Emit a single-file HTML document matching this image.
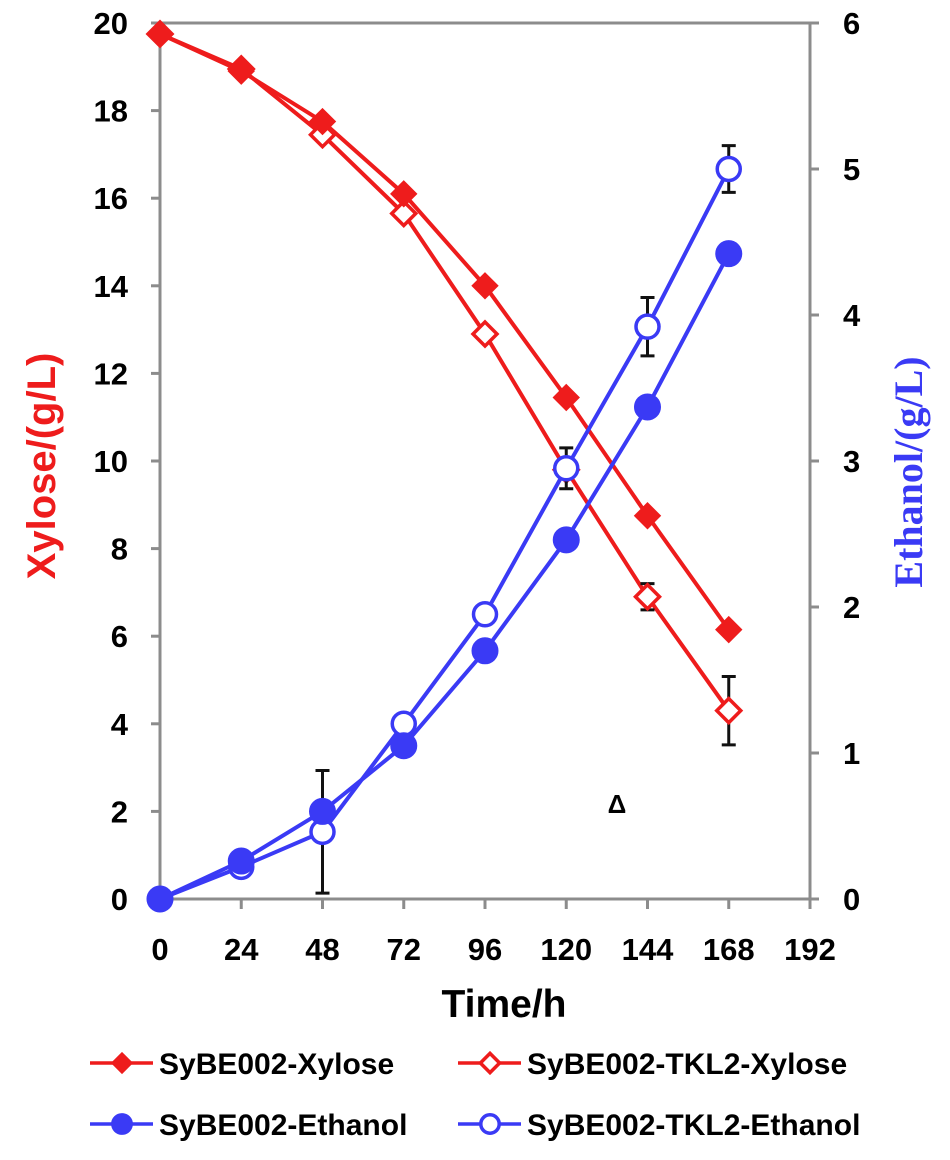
<!DOCTYPE html>
<html><head><meta charset="utf-8"><style>
body{margin:0;background:#fff;}
svg text{font-family:"Liberation Sans",Arial,sans-serif;font-weight:bold;}
</style></head><body>
<svg id="chart" width="950" height="1155" xmlns="http://www.w3.org/2000/svg">
<g id="axes"></g><g id="series"></g><g id="legend"></g>
</svg>
<script>
const times=[0,24,48,72,96,120,144,168];
const xyloseA=[19.75,18.9,17.75,16.1,14.0,11.45,8.75,6.15];
const xyloseB=[19.75,18.95,17.45,15.65,12.9,9.8,6.9,4.3];
const xyloseBErr=[0,0,0,0.12,0.1,0.12,0.3,0.78];
const ethA=[0,0.26,0.6,1.05,1.7,2.46,3.37,4.42];
const ethB=[0,0.22,0.46,1.2,1.95,2.95,3.92,5.0];
const ethBErr=[0,0,0.42,0,0,0.14,0.2,0.16];
const xTicks=[0,24,48,72,96,120,144,168,192];
const yTicks=[0,2,4,6,8,10,12,14,16,18,20];
const y2Ticks=[0,1,2,3,4,5,6];
const RED='#ee1c1c',BLUE='#3a3af5',AX='#8c8c8c';
const NS='http://www.w3.org/2000/svg';
const X0=160,X1=810,Y0=899,Y1=23;
const sx=t=>X0+(X1-X0)*t/192;
const sy=v=>Y0-(Y0-Y1)*v/20;
const sy2=v=>Y0-(Y0-Y1)*v/6;
function mk(tag,at,parent,txt){const e=document.createElementNS(NS,tag);for(const k in at)e.setAttribute(k,at[k]);if(txt!==undefined)e.textContent=txt;parent.appendChild(e);return e;}
const axes=document.getElementById('axes'),ser=document.getElementById('series'),leg=document.getElementById('legend');
let e;
e=mk('line',{x1:X0,y1:Y1,x2:X1,y2:Y1,stroke:AX,'stroke-width':3},axes);

e=mk('line',{x1:X0,y1:Y1,x2:X0,y2:Y0,stroke:AX,'stroke-width':3},axes);

e=mk('line',{x1:X1,y1:Y1,x2:X1,y2:Y0,stroke:AX,'stroke-width':3},axes);

e=mk('line',{x1:X0,y1:Y0,x2:X1,y2:Y0,stroke:AX,'stroke-width':3},axes);

xTicks.forEach(t=>{mk('line',{x1:sx(t),y1:Y0,x2:sx(t),y2:Y0+10,stroke:AX,'stroke-width':3},axes);
 e=mk('text',{x:sx(t),y:Y0+61,'text-anchor':'middle','font-size':31},axes,t);
 });
yTicks.forEach(v=>{mk('line',{x1:X0-9,y1:sy(v),x2:X0,y2:sy(v),stroke:AX,'stroke-width':3},axes);
 e=mk('text',{x:X0-32,y:sy(v)+11,'text-anchor':'end','font-size':31},axes,v);
 });
y2Ticks.forEach(v=>{mk('line',{x1:X1,y1:sy2(v),x2:X1+9,y2:sy2(v),stroke:AX,'stroke-width':3},axes);
 e=mk('text',{x:X1+33,y:sy2(v)+11,'text-anchor':'start','font-size':31},axes,v);
 });
e=mk('text',{x:504,y:1017,'text-anchor':'middle','font-size':39},axes,'Time/h');

e=mk('text',{x:0,y:0,'text-anchor':'middle','font-size':40,fill:RED,transform:'translate(55,466) rotate(-90)'},axes,'Xylose/(g/L)');

e=mk('text',{x:0,y:0,'text-anchor':'middle','font-size':40,fill:BLUE,style:'font-family:"Liberation Serif",serif',transform:'translate(922,472) rotate(-90)'},axes,'Ethanol/(g/L)');

e=mk('text',{x:617,y:813,'text-anchor':'middle','font-size':26},axes,'Δ');


function marker(g,x,y,shape,filled,color,s){
 s=s||1;
 if(shape==='d'){const r=(filled?13:12)*s;return mk('polygon',{points:`${x},${y-r} ${x+r},${y} ${x},${y+r} ${x-r},${y}`,fill:filled?color:'#fff',stroke:color,'stroke-width':filled?1:3.5},g);}
 return mk('circle',{cx:x,cy:y,r:(filled?13:11.5)*s,fill:filled?color:'#fff',stroke:color,'stroke-width':filled?1:3.5},g);
}
function series(name,vals,err,scale,color,shape,filled){
 const g=mk('g',{},ser);
 const pts=times.map((t,i)=>sx(t)+','+scale(vals[i])).join(' ');
 mk('polyline',{points:pts,fill:'none',stroke:color,'stroke-width':4},g);
 if(err)times.forEach((t,i)=>{if(!err[i])return;const x=sx(t),a=scale(vals[i]-err[i]),b=scale(vals[i]+err[i]);
  mk('path',{d:`M${x},${a}V${b}M${x-7},${a}H${x+7}M${x-7},${b}H${x+7}`,stroke:'#111','stroke-width':3,fill:'none'},g);});
 times.forEach((t,i)=>{const m=marker(g,sx(t),scale(vals[i]),shape,filled,color);
  });
}
series('sybe002-tkl2-xylose',xyloseB,xyloseBErr,sy,RED,'d',false);
series('sybe002-xylose',xyloseA,null,sy,RED,'d',true);
series('sybe002-tkl2-ethanol',ethB,ethBErr,sy2,BLUE,'c',false);
series('sybe002-ethanol',ethA,null,sy2,BLUE,'c',true);

const legItems=[['SyBE002-Xylose',RED,'d',true,90,1063],['SyBE002-TKL2-Xylose',RED,'d',false,458,1063],
 ['SyBE002-Ethanol',BLUE,'c',true,90,1124],['SyBE002-TKL2-Ethanol',BLUE,'c',false,458,1124]];
legItems.forEach(([lab,c,s,f,x,y])=>{const g=mk('g',{},leg);
 
 mk('line',{x1:x,y1:y,x2:x+63,y2:y,stroke:c,'stroke-width':3.5},g);
 marker(g,x+32,y,s,f,c,0.8);
 mk('text',{x:x+69,y:y+11,'font-size':30},g,lab);});
</script>
</body></html>
